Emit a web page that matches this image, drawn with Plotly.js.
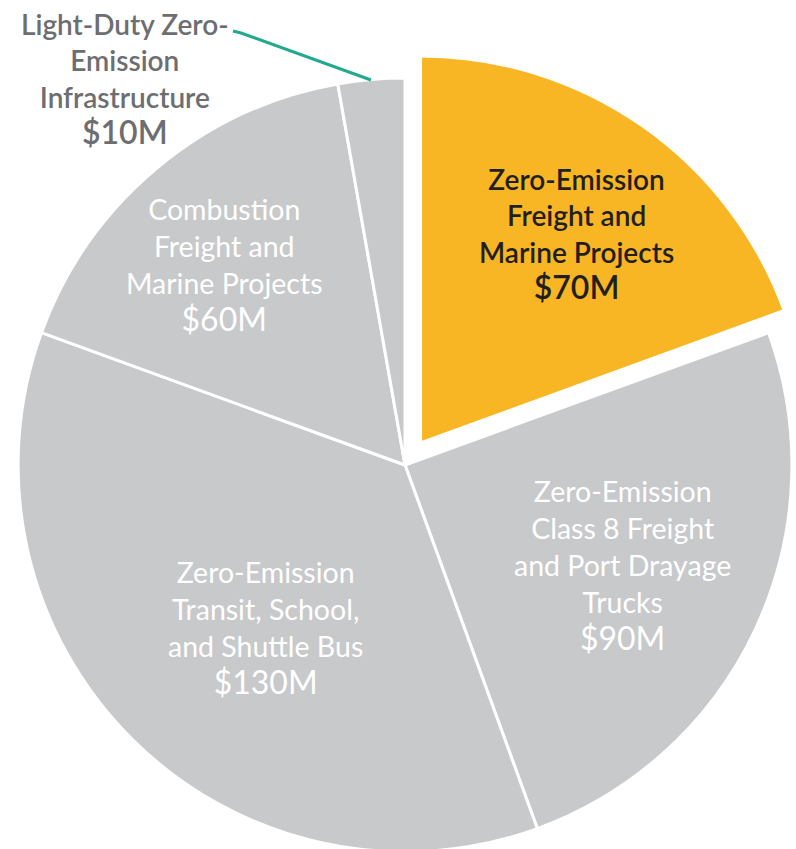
<!DOCTYPE html>
<html>
<head>
<meta charset="utf-8">
<script src="https://cdn.plot.ly/plotly-3.0.1.min.js"></script>
<style>
  html, body { margin: 0; padding: 0; background: #ffffff; overflow: hidden; width: 796px; height: 849px; }
  #chart { position: absolute; left: -9px; top: 0px; width: 828px; height: 879px; }
</style>
</head>
<body>
<div id="chart"></div>
<script>
// ---- Data ----
const categories = [
  "Zero-Emission<br>Freight and<br>Marine Projects",
  "Zero-Emission<br>Class 8 Freight<br>and Port Drayage<br>Trucks",
  "Zero-Emission<br>Transit, School,<br>and Shuttle Bus",
  "Combustion<br>Freight and<br>Marine Projects",
  "Light-Duty Zero-<br>Emission<br>Infrastructure"
];
const values = [70, 90, 130, 60, 10];          // $ millions
const sliceColors = ["#F9B624", "#C8C9CB", "#C8C9CB", "#C8C9CB", "#C8C9CB"];
const pulls = [0.07, 0, 0, 0, 0];

// ---- Layout helpers (pixel on page -> paper coords of this figure) ----
const W = 828, H = 879, MT = 51, OFFX = -9;
function px2paper(px, py) {
  return { x: (px - OFFX) / W, y: 1 - (py - MT) / (H - MT) };
}

const labelStyle = [
  { pos: [576, 234], color: "#231F20", weight: 600, size: 28 },
  { pos: [622, 565], color: "#FFFFFF", weight: 400, size: 28.5 },
  { pos: [265, 628], color: "#FFFFFF", weight: 400, size: 28.5 },
  { pos: [225, 265], color: "#FFFFFF", weight: 400, size: 28.5 },
  { pos: [125, 79],  color: "#6D6E71", weight: 600, size: 28 }
];

const annotations = categories.map((c, i) => {
  const p = px2paper(labelStyle[i].pos[0], labelStyle[i].pos[1]);
  return {
    xref: "paper", yref: "paper", x: p.x, y: p.y,
    xanchor: "center", yanchor: "middle", align: "center",
    showarrow: false,
    text: c + "<br><span style=\"font-size:32px\">$" + values[i] + "M</span>",
    font: { family: "Lato, 'Open Sans', sans-serif", size: labelStyle[i].size,
            color: labelStyle[i].color, weight: labelStyle[i].weight }
  };
});

const a = px2paper(233, 31), b = px2paper(241, 33), cc = px2paper(371, 80);
const shapes = [{
  type: "path", xref: "paper", yref: "paper",
  path: `M ${a.x},${a.y} L ${b.x},${b.y} L ${cc.x},${cc.y}`,
  line: { color: "#22A98F", width: 3 }
}];

const trace = {
  type: "pie",
  values: values,
  labels: categories,
  sort: false,
  direction: "clockwise",
  rotation: 0,
  pull: pulls,
  textinfo: "none",
  hoverinfo: "none",
  marker: { colors: sliceColors, line: { color: "#FFFFFF", width: 3 } },
  domain: { x: [0, 1], y: [0, 1] },
  showlegend: false
};

const layout = {
  width: W, height: H,
  margin: { l: 0, r: 0, t: MT, b: 0, pad: 0 },
  paper_bgcolor: "#FFFFFF",
  plot_bgcolor: "#FFFFFF",
  showlegend: false,
  annotations: annotations,
  shapes: shapes
};

Plotly.newPlot("chart", [trace], layout, { staticPlot: true, displayModeBar: false });
</script>
</body>
</html>
